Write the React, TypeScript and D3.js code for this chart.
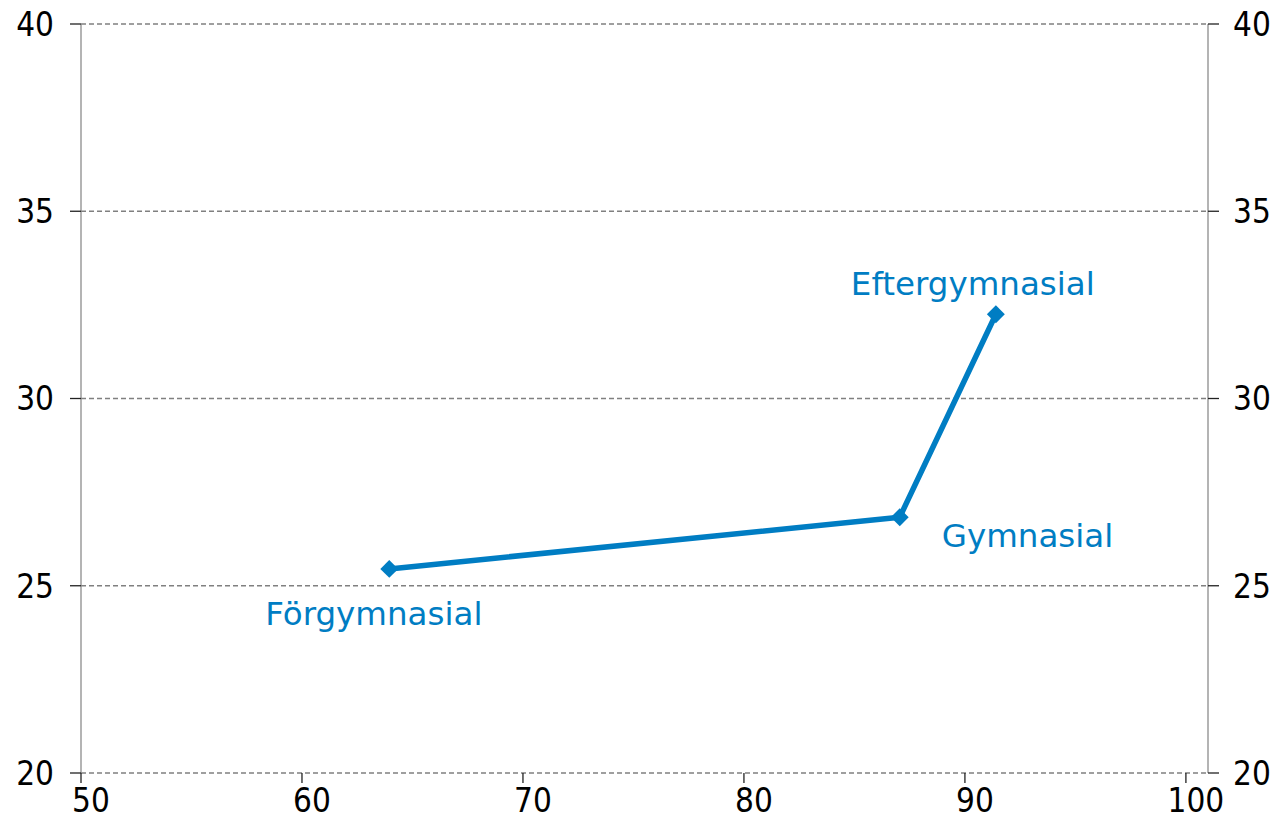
import React from "react";
import * as d3 from "d3";

const categories = ["Förgymnasial", "Gymnasial", "Eftergymnasial"];
const xValues = [63.95, 87.05, 91.4];
const yValues = [25.45, 26.83, 32.25];
const xTicks = [50, 60, 70, 80, 90, 100];
const yTicks = [20, 25, 30, 35, 40];
const labelOffsets: [number, number][] = [[-124, 56], [42, 30], [-145, -19]];

const W = 1278, H = 817;
const margin = { left: 81, right: 70, top: 24, bottom: 44 };
const COLOR = "#007DC3";
const FONT = "DejaVu Sans, Verdana, sans-serif";
const TICKFONT = "DejaVu Sans Condensed, DejaVu Sans, Tahoma, sans-serif";

export default function App() {
  const x = d3.scaleLinear().domain([50, 101]).range([margin.left, W - margin.right]);
  const y = d3.scaleLinear().domain([20, 40]).range([H - margin.bottom, margin.top]);
  const pts = xValues.map((v, i) => [x(v), y(yValues[i])] as [number, number]);
  const line = d3.line()(pts) || "";
  const diamond = d3.symbol().type(d3.symbolDiamond2).size(205)() || "";
  const x0 = x(50), x1 = x(101), yb = y(20);
  return (
    <svg width={W} height={H} style={{ position: "absolute", left: 0, top: 0, background: "#fff" }}>
      {yTicks.map((t) => (
        <line key={"g" + t} x1={x0} x2={x1} y1={y(t)} y2={y(t)} stroke="#808080" strokeWidth={1.3} strokeDasharray="5,3" />
      ))}
      <line x1={x0} x2={x0} y1={y(40)} y2={yb} stroke="#8c8c8c" strokeWidth={1.3} />
      <line x1={x1} x2={x1} y1={y(40)} y2={yb} stroke="#8c8c8c" strokeWidth={1.3} />
      {yTicks.map((t) => (
        <g key={"yt" + t}>
          <line x1={x0 - 11} x2={x0} y1={y(t)} y2={y(t)} stroke="#222" strokeWidth={1.3} />
          <line x1={x1} x2={x1 + 11} y1={y(t)} y2={y(t)} stroke="#222" strokeWidth={1.3} />
          <text x={x0 - 27} y={y(t)} dy="0.36em" textAnchor="end" fontFamily={TICKFONT} fontSize={33} fill="#000">{t}</text>
          <text x={x1 + 25} y={y(t)} dy="0.36em" textAnchor="start" fontFamily={TICKFONT} fontSize={33} fill="#000">{t}</text>
        </g>
      ))}
      {xTicks.map((t) => (
        <g key={"xt" + t}>
          <line x1={x(t)} x2={x(t)} y1={yb} y2={yb + 10} stroke="#222" strokeWidth={1.3} />
          <text x={x(t) + 10} y={yb + 39} textAnchor="middle" fontFamily={TICKFONT} fontSize={33} fill="#000">{t}</text>
        </g>
      ))}
      <path d={line} fill="none" stroke={COLOR} strokeWidth={5.5} strokeLinejoin="round" />
      {pts.map((p, i) => (
        <path key={"m" + i} d={diamond} transform={`translate(${p[0]},${p[1]})`} fill={COLOR} />
      ))}
      {pts.map((p, i) => (
        <text key={"l" + i} x={p[0] + labelOffsets[i][0]} y={p[1] + labelOffsets[i][1]} fontFamily={FONT} fontSize={32.5} fill={COLOR}>{categories[i]}</text>
      ))}
    </svg>
  );
}
